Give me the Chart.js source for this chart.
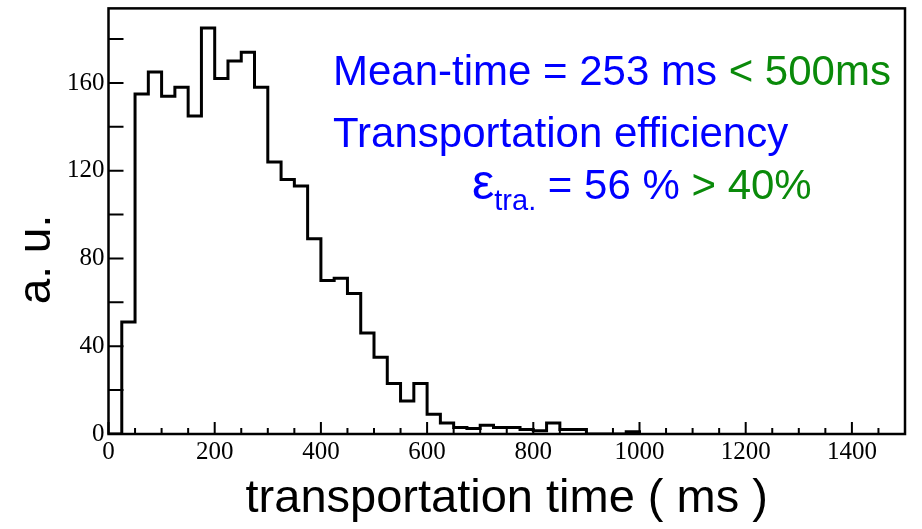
<!DOCTYPE html>
<html>
<head>
<meta charset="utf-8">
<script src="https://cdn.jsdelivr.net/npm/chart.js@4.4.0/dist/chart.umd.min.js"></script>
<style>
  html, body { margin: 0; padding: 0; background: #ffffff; }
  #wrap { width: 922px; height: 529px; position: relative; }
</style>
</head>
<body>
<div id="wrap"><canvas id="c"></canvas></div>
<script>
// Bin left edges (ms) and counts (a.u.)
const binEdges = [0, 25, 50, 75, 100, 125, 150, 175, 200, 225, 250, 275, 300, 325, 350, 375,
  400, 425, 450, 475, 500, 525, 550, 575, 600, 625, 650, 675, 700, 725, 750, 775,
  800, 825, 850, 875, 900, 925, 950, 975, 1000];
const counts = [0, 51, 155, 165, 154, 158, 145, 185, 162, 170, 174, 158, 124, 116, 113, 89,
  70, 71, 64, 46, 35, 23, 15, 23, 9, 5, 3, 2.5, 4, 3, 3, 2,
  1.5, 5, 2, 2, 0, 0, 0, 1, 0];

const xTickLabels = [0, 200, 400, 600, 800, 1000, 1200, 1400];
const yTickLabels = [0, 40, 80, 120, 160];
const xRange = [0, 1500];
const yRange = [0, 194];
const xMinorStep = 50;
const yMinorStep = 20;

const xTitle = 'transportation time ( ms )';
const yTitle = 'a. u.';
const line1Blue = 'Mean-time = 253 ms ';
const line1Green = '< 500ms';
const line2 = 'Transportation efficiency';
const line3Eps = 'ε';
const line3Sub = 'tra.';
const line3Blue = ' = 56 % ';
const line3Green = '> 40%';

const BLUE = '#0000ff';
const GREEN = '#0a8a0a';

const points = binEdges.map((e, i) => ({ x: e, y: counts[i] }));

const frameTicks = {
  id: 'frameTicks',
  afterDraw(chart) {
    const { ctx, chartArea: a, scales: { x, y } } = chart;
    ctx.save();
    ctx.strokeStyle = '#000';
    ctx.lineWidth = 2;
    ctx.beginPath();
    for (let v = yRange[0]; v <= yRange[1]; v += yMinorStep) {
      const py = y.getPixelForValue(v);
      ctx.moveTo(a.left, py); ctx.lineTo(a.left + 15, py);
    }
    for (let v = xRange[0]; v <= xRange[1]; v += xMinorStep) {
      const px = x.getPixelForValue(v);
      const len = xTickLabels.includes(v) ? 12 : 6;
      ctx.moveTo(px, a.bottom); ctx.lineTo(px, a.bottom - len);
    }
    ctx.stroke();
    ctx.lineWidth = 2.5;
    ctx.strokeRect(a.left, a.top, a.right - a.left, a.bottom - a.top);

    // annotation text
    ctx.textBaseline = 'alphabetic';
    ctx.textAlign = 'left';
    const big = '42px "Liberation Sans", Arial, sans-serif';
    ctx.font = big;
    let tx = 333;
    ctx.fillStyle = BLUE;
    ctx.fillText(line1Blue, tx, 85);
    tx += ctx.measureText(line1Blue).width;
    ctx.fillStyle = GREEN;
    ctx.fillText(line1Green, tx, 85);

    ctx.fillStyle = BLUE;
    ctx.fillText(line2, 333, 147);

    tx = 472;
    ctx.font = '50px "Liberation Sans", Arial, sans-serif';
    ctx.fillText(line3Eps, tx, 199);
    tx += ctx.measureText(line3Eps).width;
    ctx.font = '29px "Liberation Sans", Arial, sans-serif';
    ctx.fillText(line3Sub, tx, 210);
    tx += ctx.measureText(line3Sub).width;
    ctx.font = big;
    ctx.fillText(line3Blue, tx, 199);
    tx += ctx.measureText(line3Blue).width;
    ctx.fillStyle = GREEN;
    ctx.fillText(line3Green, tx, 199);
    ctx.restore();
  }
};

new Chart(document.getElementById('c'), {
  type: 'line',
  data: {
    datasets: [{
      data: points,
      stepped: 'before',
      borderColor: '#000',
      borderWidth: 3,
      pointRadius: 0,
      fill: false,
      tension: 0
    }]
  },
  options: {
    responsive: true,
    maintainAspectRatio: false,
    animation: false,
    layout: { padding: { left: 14, top: 0, right: 17, bottom: 0 } },
    plugins: { legend: { display: false }, tooltip: { enabled: false } },
    scales: {
      x: {
        type: 'linear',
        min: xRange[0], max: xRange[1],
        grid: { display: false, drawTicks: false, tickLength: 0 },
        border: { display: false },
        afterBuildTicks: s => { s.ticks = xTickLabels.map(v => ({ value: v })); },
        ticks: {
          color: '#000', padding: 6, maxRotation: 0, autoSkip: false,
          font: { family: '"Liberation Serif", "Times New Roman", serif', size: 25, lineHeight: 1 },
          callback: v => String(v)
        },
        title: {
          display: true, text: xTitle, color: '#000',
          font: { family: '"Liberation Sans", Arial, sans-serif', size: 47, lineHeight: 1 },
          padding: { top: 5, bottom: 6 }
        }
      },
      y: {
        type: 'linear',
        min: yRange[0], max: yRange[1],
        grid: { display: false, drawTicks: false, tickLength: 0 },
        border: { display: false },
        afterBuildTicks: s => { s.ticks = yTickLabels.map(v => ({ value: v })); },
        ticks: {
          color: '#000', padding: 4, autoSkip: false,
          font: { family: '"Liberation Serif", "Times New Roman", serif', size: 25, lineHeight: 0.35 },
          callback: v => String(v)
        },
        title: {
          display: true, text: yTitle + '      ', color: '#000',
          font: { family: '"Liberation Sans", Arial, sans-serif', size: 46, lineHeight: 1 },
          padding: { top: 0, bottom: 3 }
        }
      }
    }
  },
  plugins: [frameTicks]
});
</script>
</body>
</html>
